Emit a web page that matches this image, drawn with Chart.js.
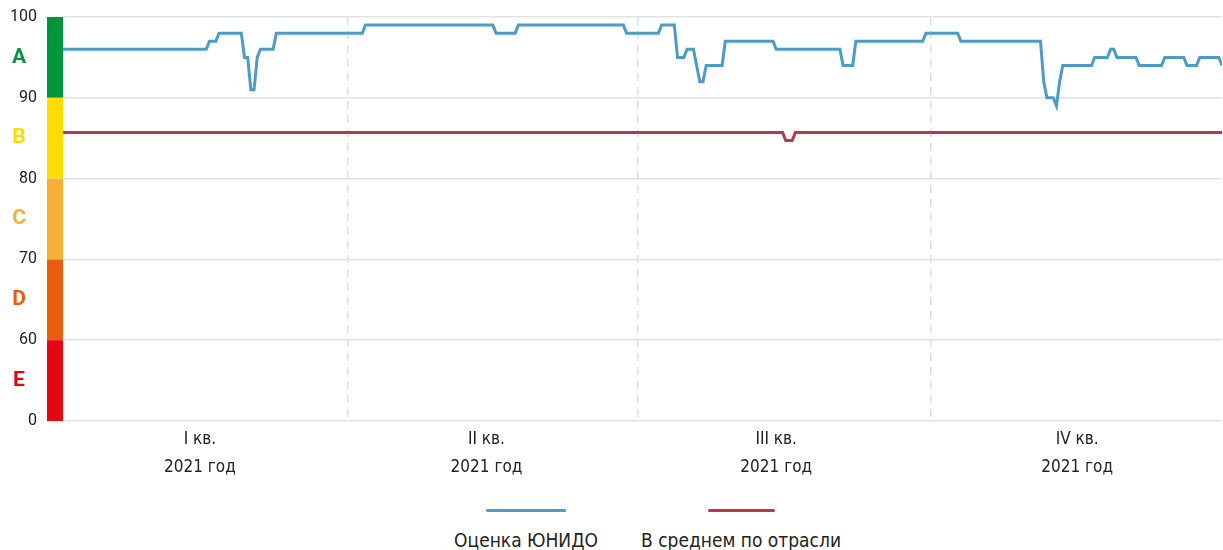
<!DOCTYPE html>
<html lang="ru">
<head>
    <meta charset="UTF-8">
    <title>Оценка ЮНИДО</title>
    <script src="https://cdn.jsdelivr.net/npm/chart.js"></script>
    <style>
        body { margin: 0; background: #fff; font-family: "Liberation Sans Narrow", "DejaVu Sans Condensed", Roboto, sans-serif; }
        .chart-box { position: relative; width: 1223px; height: 490px; }
        .legend { position: relative; width: 1223px; height: 60px; }
        .legend-item { position: absolute; top: 0; transform: translateX(-50%); display: flex; flex-direction: column; align-items: center; }
        .legend-line { height: 3px; margin-top: 19px; border-radius: 2px; }
        .legend-text { margin-top: 16px; font-size: 19px; line-height: 24px; color: #222; white-space: nowrap; }
    </style>
</head>
<body>
    <div class="chart-box"><canvas id="scoreChart"></canvas></div>
    <div class="legend" id="legend"></div>

    <script>
        // day of year (0 = 1 Jan 2021) and score
        const unidoDays = [0, 45, 46, 48, 49, 56, 57, 58, 59, 60, 61, 62, 66, 67, 94, 95, 135, 136, 142, 143,
            176, 177, 187, 188, 192, 193, 195, 196, 198, 200, 201, 202, 207, 208, 223, 224, 244, 245, 248, 249,
            270, 271, 281, 282, 307, 308, 309, 311, 312, 313, 314, 323, 324, 328, 329, 330, 331, 337, 338, 345,
            346, 352, 353, 356, 357, 363, 364];
        const unidoScores = [96, 96, 97, 97, 98, 98, 95, 95, 91, 91, 95, 96, 96, 98, 98, 99, 99, 98, 98, 99,
            99, 98, 98, 99, 99, 95, 95, 96, 96, 92, 92, 94, 94, 97, 97, 96, 96, 94, 94, 97,
            97, 98, 98, 97, 97, 92, 90, 90, 89, 92, 94, 94, 95, 95, 96, 96, 95, 95, 94, 94,
            95, 95, 94, 94, 95, 95, 94];

        const industryDays = [0, 226, 227, 229, 230, 364];
        const industryScores = [85.7, 85.7, 84.7, 84.7, 85.7, 85.7];

        const quarterLabels = ['I кв.', 'II кв.', 'III кв.', 'IV кв.'];
        const yearLabel = '2021 год';
        const quarterLabelDays = [43, 133, 224, 318.5];
        const quarterBounds = [89.5, 180.5, 272.5];

        const grades = ['A', 'B', 'C', 'D', 'E'];
        const gradeTop = [100, 90, 80, 70, 60];
        const gradeBottom = [90, 80, 70, 60, 50];
        const gradeColors = ['#009640', '#ffdd00', '#f7b036', '#e95d0f', '#e30613'];

        const seriesNames = ['Оценка ЮНИДО', 'В среднем по отрасли'];
        const seriesColors = ['#4d9cc6', '#b5394f'];
        const legendLineWidths = [80, 67];
        const legendCenters = [526, 741];

        const narrowFont = '"Liberation Sans Narrow", "DejaVu Sans Condensed", Roboto, sans-serif';

        function toPoints(days, scores) {
            return days.map((d, i) => ({ x: d, y: scores[i] }));
        }

        // colored grade strip to the left of the plot
        const gradeStrip = {
            id: 'gradeStrip',
            afterDraw(chart) {
                const ctx = chart.ctx;
                const y = chart.scales.y;
                const left = chart.chartArea.left;
                ctx.save();
                grades.forEach((g, i) => {
                    const top = y.getPixelForValue(gradeTop[i]);
                    const bottom = y.getPixelForValue(gradeBottom[i]);
                    ctx.fillStyle = gradeColors[i];
                    ctx.fillRect(left - 16, top, 16, bottom - top);
                    ctx.font = 'bold 21px Roboto, sans-serif';
                    ctx.textAlign = 'center';
                    ctx.textBaseline = 'middle';
                    ctx.fillText(g, left - 44, (top + bottom) / 2);
                });
                ctx.restore();
            }
        };

        const ctx = document.getElementById('scoreChart').getContext('2d');
        const scoreChart = new Chart(ctx, {
            type: 'line',
            data: {
                datasets: [
                    { label: seriesNames[0], data: toPoints(unidoDays, unidoScores), borderColor: seriesColors[0], borderWidth: 3 },
                    { label: seriesNames[1], data: toPoints(industryDays, industryScores), borderColor: seriesColors[1], borderWidth: 3 }
                ]
            },
            options: {
                responsive: true,
                maintainAspectRatio: false,
                animation: false,
                layout: { padding: { top: 17, right: 1, left: 0, bottom: 0 } },
                elements: { point: { radius: 0 }, line: { tension: 0, fill: false } },
                plugins: { legend: { display: false }, tooltip: { enabled: false } },
                scales: {
                    x: {
                        type: 'linear',
                        min: 0,
                        max: 364,
                        afterBuildTicks: scale => {
                            const vals = quarterLabelDays.concat(quarterBounds).sort((a, b) => a - b);
                            scale.ticks = vals.map(v => ({ value: v }));
                        },
                        afterFit: scale => { scale.height = 69; },
                        ticks: {
                            autoSkip: false,
                            maxRotation: 0,
                            padding: 5,
                            color: '#222',
                            font: { family: narrowFont, size: 17, lineHeight: 1.65 },
                            callback: value => {
                                const i = quarterLabelDays.indexOf(value);
                                return i >= 0 ? [quarterLabels[i], yearLabel] : '';
                            }
                        },
                        grid: {
                            drawTicks: false,
                            lineWidth: 1.5,
                            color: c => (c.tick && quarterBounds.includes(c.tick.value)) ? '#dedede' : 'rgba(0,0,0,0)'
                        },
                        border: { display: false, dash: [8, 6] }
                    },
                    y: {
                        min: 50,
                        max: 100,
                        afterFit: scale => {
                            scale.width = 63;
                            scale.paddingTop = 0;
                            scale.paddingBottom = 0;
                        },
                        ticks: {
                            stepSize: 10,
                            padding: 26,
                            color: '#222',
                            font: { family: 'Roboto', size: 16 },
                            callback: value => value === 50 ? '0' : value
                        },
                        grid: { drawTicks: false, color: '#e3e3e3', lineWidth: 1.5 },
                        border: { display: false }
                    }
                }
            },
            plugins: [gradeStrip]
        });

        document.getElementById('legend').innerHTML = scoreChart.data.datasets.map((ds, i) => `
            <div class="legend-item" style="left:${legendCenters[i]}px">
                <div class="legend-line" style="width:${legendLineWidths[i]}px;background:${ds.borderColor}"></div>
                <div class="legend-text">${ds.label}</div>
            </div>`).join('');
    </script>
</body>
</html>
